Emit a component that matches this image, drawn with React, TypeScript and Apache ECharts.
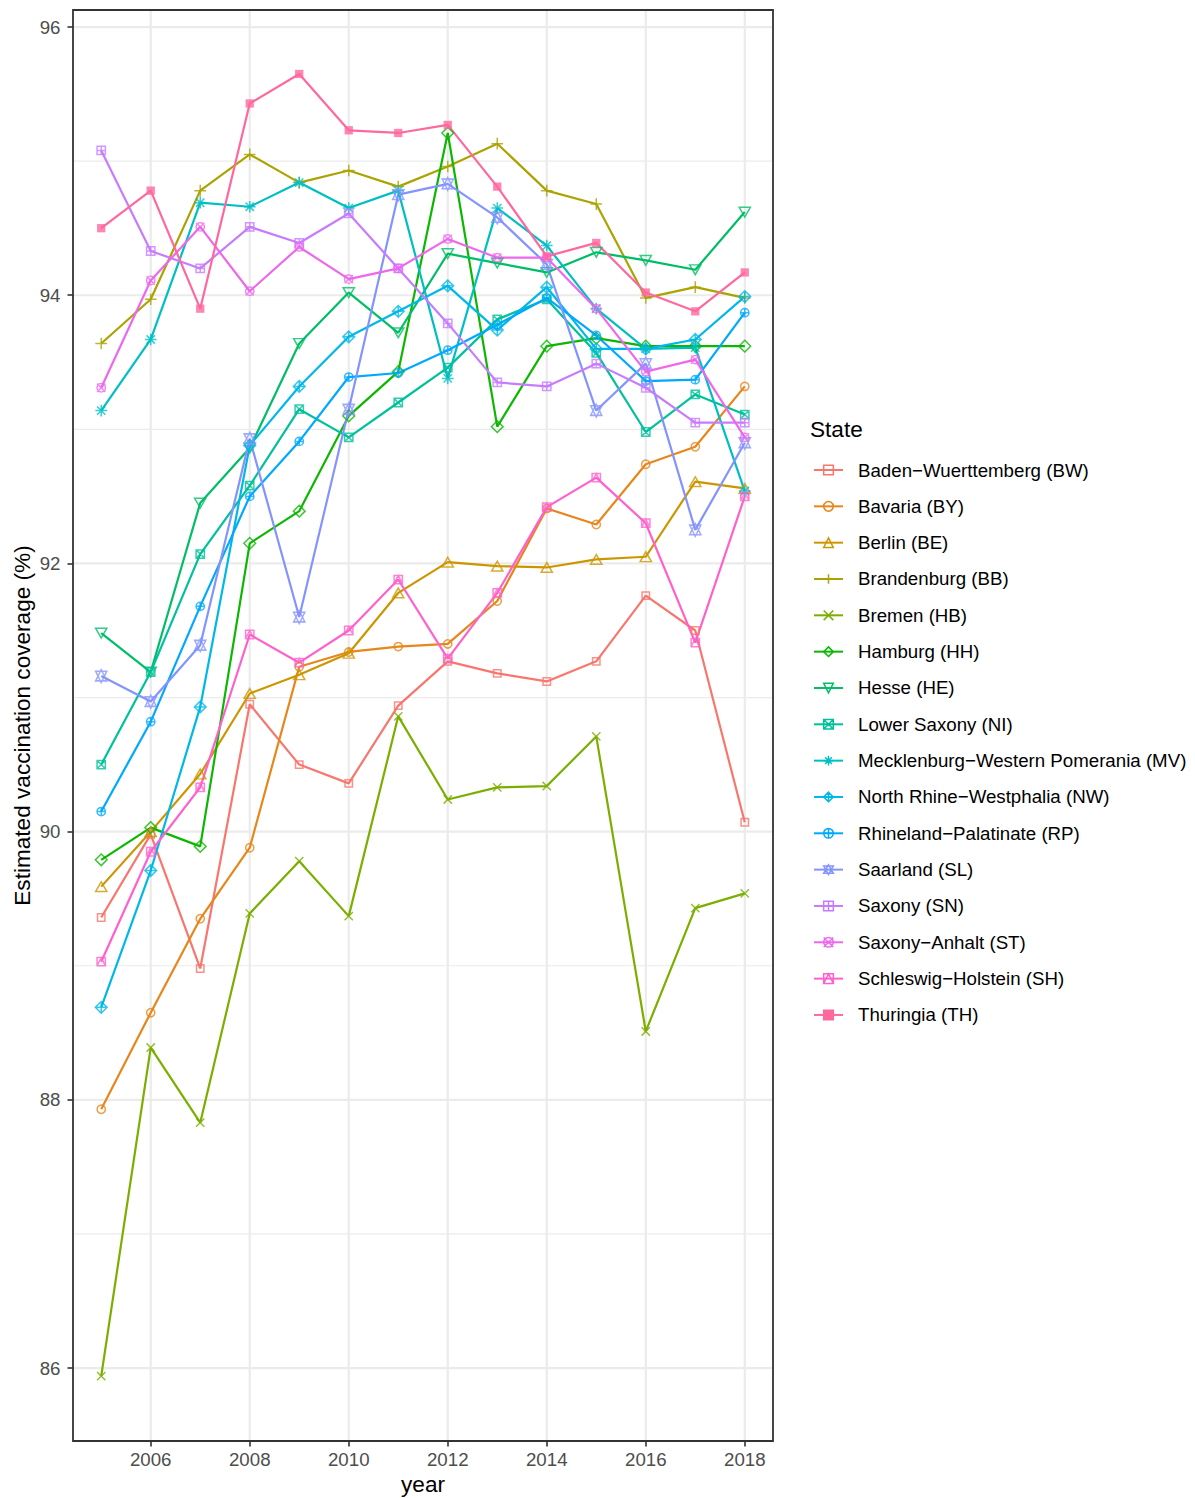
import React, { useEffect, useRef } from "react";
import * as echarts from "echarts";

// ---------- data ----------
const YEARS = [2005, 2006, 2007, 2008, 2009, 2010, 2011, 2012, 2013, 2014, 2015, 2016, 2017, 2018];

const STATES = [
  "Baden\u2212Wuerttemberg (BW)",
  "Bavaria (BY)",
  "Berlin (BE)",
  "Brandenburg (BB)",
  "Bremen (HB)",
  "Hamburg (HH)",
  "Hesse (HE)",
  "Lower Saxony (NI)",
  "Mecklenburg\u2212Western Pomerania (MV)",
  "North Rhine\u2212Westphalia (NW)",
  "Rhineland\u2212Palatinate (RP)",
  "Saarland (SL)",
  "Saxony (SN)",
  "Saxony\u2212Anhalt (ST)",
  "Schleswig\u2212Holstein (SH)",
  "Thuringia (TH)",
];

const BW = [89.36, 89.98, 88.98, 90.95, 90.5, 90.36, 90.94, 91.27, 91.18, 91.12, 91.27, 91.76, 91.5, 90.07];
const BY = [87.93, 88.65, 89.35, 89.88, 91.23, 91.34, 91.38, 91.4, 91.72, 92.41, 92.29, 92.74, 92.87, 93.32];
const BE = [89.59, 90.0, 90.43, 91.03, 91.17, 91.33, 91.78, 92.01, 91.98, 91.97, 92.03, 92.05, 92.61, 92.56];
const BB = [93.64, 93.97, 94.78, 95.05, 94.84, 94.93, 94.81, 94.96, 95.13, 94.78, 94.68, 93.98, 94.06, 93.98];
const HB = [85.94, 88.39, 87.83, 89.39, 89.78, 89.37, 90.86, 90.24, 90.33, 90.34, 90.71, 88.51, 89.43, 89.54];
const HH = [89.79, 90.03, 89.89, 92.15, 92.39, 93.1, 93.43, 95.21, 93.02, 93.62, 93.68, 93.62, 93.62, 93.62];
const HE = [91.48, 91.19, 92.45, 92.86, 93.64, 94.02, 93.72, 94.31, 94.24, 94.17, 94.32, 94.26, 94.19, 94.62];
const NI = [90.5, 91.19, 92.07, 92.58, 93.15, 92.94, 93.2, 93.46, 93.82, 93.97, 93.57, 92.98, 93.26, 93.11];
const MV = [93.14, 93.67, 94.69, 94.66, 94.84, 94.65, 94.78, 93.38, 94.65, 94.37, 93.9, 93.6, 93.61, 92.54];
const NW = [88.69, 89.71, 90.93, 92.88, 93.32, 93.69, 93.88, 94.07, 93.74, 94.06, 93.6, 93.6, 93.67, 93.99];
const RP = [90.15, 90.82, 91.68, 92.5, 92.91, 93.39, 93.42, 93.59, 93.78, 93.98, 93.7, 93.36, 93.37, 93.87];
const SL = [91.16, 90.97, 91.39, 92.93, 91.6, 93.15, 94.75, 94.83, 94.58, 94.23, 93.14, 93.49, 92.25, 92.9];
const SN = [95.08, 94.33, 94.2, 94.51, 94.39, 94.61, 94.2, 93.79, 93.35, 93.32, 93.49, 93.31, 93.05, 93.05];
const ST = [93.31, 94.11, 94.51, 94.03, 94.36, 94.12, 94.2, 94.42, 94.28, 94.28, 93.9, 93.43, 93.52, 92.94];
const SH = [89.03, 89.85, 90.33, 91.47, 91.26, 91.5, 91.88, 91.29, 91.78, 92.42, 92.64, 92.3, 91.41, 92.5];
const TH = [94.5, 94.78, 93.9, 95.43, 95.65, 95.23, 95.21, 95.27, 94.81, 94.29, 94.39, 94.02, 93.88, 94.17];

const VALUES = [BW, BY, BE, BB, HB, HH, HE, NI, MV, NW, RP, SL, SN, ST, SH, TH];

const X_TICKS = [2006, 2008, 2010, 2012, 2014, 2016, 2018];
const Y_TICKS = [86, 88, 90, 92, 94, 96];
const Y_MINOR = [87, 89, 91, 93, 95];
const X_RANGE = [2004.43, 2018.57];
const Y_RANGE = [85.456, 96.127];

// ---------- styles ----------
const COLORS = [
  "#F8766D", "#E7861B", "#CD9600", "#ABA300", "#7CAE00", "#0CB702", "#00BE67", "#00C19A",
  "#00BFC4", "#00B8E7", "#00A9FF", "#8494FF", "#C77CFF", "#ED68ED", "#FF61CC", "#FF689F",
];

const FONT = "'Liberation Sans', Arial, Helvetica, sans-serif";
const CIRCLE = "M0 5A5 5 0 1 1 10 5A5 5 0 1 1 0 5Z";

const SHAPES: { symbol: string; size: number | number[]; filled?: boolean }[] = [
  { symbol: "rect", size: 7.4 },
  { symbol: "circle", size: 8.3 },
  { symbol: "triangle", size: [11.2, 9.7] },
  { symbol: "path://M0 5L10 5M5 0L5 10", size: 11.7 },
  { symbol: "path://M0 0L10 10M10 0L0 10", size: 8.3 },
  { symbol: "diamond", size: 11.7 },
  { symbol: "path://M0 0L10 0L5 8.66Z", size: [11.2, 9.7] },
  { symbol: "path://M0 0L10 0L10 10L0 10ZM0 0L10 10M10 0L0 10", size: 8.3 },
  { symbol: "path://M0 5L10 5M5 0L5 10M1.46 1.46L8.54 8.54M8.54 1.46L1.46 8.54", size: 11.7 },
  { symbol: "path://M5 0L10 5L5 10L0 5ZM0 5L10 5M5 0L5 10", size: 11.7 },
  { symbol: "path://" + CIRCLE + "M0 5L10 5M5 0L5 10", size: 8.3 },
  { symbol: "path://M13.47 0L26.94 27.21L0 27.21ZM13.47 31.1L26.94 3.89L0 3.89Z", size: [11.2, 12.9] },
  { symbol: "path://M0 0L10 0L10 10L0 10ZM0 5L10 5M5 0L5 10", size: 8.3 },
  { symbol: "path://" + CIRCLE + "M0 0L10 10M10 0L0 10", size: 8.3 },
  { symbol: "path://M0 0L10 0L10 10L0 10ZM0 10L5 0L10 10", size: 8.3 },
  { symbol: "rect", size: 8.3, filled: true },
];

function itemStyleFor(i: number) {
  const c = COLORS[i];
  return SHAPES[i].filled
    ? { color: c, borderColor: c, borderWidth: 0 }
    : { color: "none", borderColor: c, borderWidth: 1.5 };
}

export default function App() {
  const ref = useRef<HTMLDivElement>(null);

  useEffect(() => {
    if (!ref.current) return;
    const chart = echarts.init(ref.current, null, { renderer: "svg" });

    const seriesData = (i: number) => YEARS.map((y, j) => [y, VALUES[i][j]]);

    const lineSeries = STATES.map((name, i) => ({
      name,
      type: "line",
      data: seriesData(i),
      symbol: SHAPES[i].symbol,
      symbolSize: SHAPES[i].size,
      showSymbol: false,
      itemStyle: itemStyleFor(i),
      lineStyle: { color: COLORS[i], width: 2.2 },
      emphasis: { disabled: true },
      silent: true,
      z: 2,
    }));

    const pointSeries = STATES.map((name, i) => ({
      name,
      type: "scatter",
      data: seriesData(i),
      symbol: SHAPES[i].symbol,
      symbolSize: SHAPES[i].size,
      itemStyle: itemStyleFor(i),
      emphasis: { disabled: true },
      silent: true,
      z: 3,
    }));

    const vGrid = {
      type: "custom",
      name: "vgrid",
      silent: true,
      z: 1,
      clip: false,
      data: X_TICKS.map((x) => [x, Y_RANGE[0]]),
      renderItem: (_p: any, api: any) => {
        const x = api.value(0);
        const a = api.coord([x, Y_RANGE[0]]);
        const b = api.coord([x, Y_RANGE[1]]);
        return {
          type: "line",
          shape: { x1: a[0], y1: a[1], x2: b[0], y2: b[1] },
          style: { stroke: "#EBEBEB", lineWidth: 2.2 },
        };
      },
    };

    const hGrid = {
      type: "custom",
      name: "hgrid",
      silent: true,
      z: 1,
      clip: false,
      data: [...Y_TICKS.map((y) => [X_RANGE[0], y, 1]), ...Y_MINOR.map((y) => [X_RANGE[0], y, 0])],
      renderItem: (_p: any, api: any) => {
        const y = api.value(1);
        const major = api.value(2) === 1;
        const a = api.coord([X_RANGE[0], y]);
        const b = api.coord([X_RANGE[1], y]);
        return {
          type: "line",
          shape: { x1: a[0], y1: a[1], x2: b[0], y2: b[1] },
          style: { stroke: "#EBEBEB", lineWidth: major ? 2.2 : 1.2 },
        };
      },
    };

    chart.setOption({
      animation: false,
      backgroundColor: "#FFFFFF",
      grid: {
        left: 73,
        top: 10,
        width: 700,
        height: 1431,
        show: true,
        borderColor: "#333333",
        borderWidth: 1.8,
        backgroundColor: "transparent",
        z: 10,
      },
      xAxis: {
        type: "value",
        min: X_RANGE[0],
        max: X_RANGE[1],
        axisLine: { show: false },
        splitLine: { show: false },
        axisTick: { show: true, customValues: X_TICKS, length: 5.5, lineStyle: { color: "#333333", width: 1.6 } },
        axisLabel: {
          customValues: X_TICKS,
          formatter: (v: number) => String(v),
          color: "#4D4D4D",
          fontSize: 18.7,
          fontFamily: FONT,
          margin: 8.5,
        },
      },
      yAxis: {
        type: "value",
        min: Y_RANGE[0],
        max: Y_RANGE[1],
        axisLine: { show: false },
        splitLine: { show: false },
        axisTick: { show: true, customValues: Y_TICKS, length: 5.5, lineStyle: { color: "#333333", width: 1.6 } },
        axisLabel: {
          customValues: Y_TICKS,
          formatter: (v: number) => String(v),
          color: "#4D4D4D",
          fontSize: 18.7,
          fontFamily: FONT,
          margin: 12.5,
        },
      },
      legend: {
        data: STATES,
        orient: "vertical",
        left: 813,
        top: 460,
        padding: 0,
        itemWidth: 29,
        itemHeight: 12,
        itemGap: 16.33,
        selectedMode: false,
        itemStyle: { borderWidth: 1.5 },
        textStyle: {
          fontFamily: FONT,
          fontSize: 18.7,
          color: "#000000",
          lineHeight: 20,
          padding: [0, 0, 0, 10],
        },
      },
      graphic: [
        {
          type: "text",
          x: 810,
          y: 429,
          style: {
            text: "State",
            fontFamily: FONT,
            fontSize: 22.6,
            fill: "#000000",
            align: "left",
            verticalAlign: "middle",
            textAlign: "left",
            textVerticalAlign: "middle",
          },
        },
        {
          type: "text",
          x: 423,
          y: 1484,
          style: {
            text: "year",
            fontFamily: FONT,
            fontSize: 22.6,
            fill: "#000000",
            align: "center",
            verticalAlign: "middle",
            textAlign: "center",
            textVerticalAlign: "middle",
          },
        },
        {
          type: "text",
          x: 22,
          y: 725.5,
          rotation: Math.PI / 2,
          style: {
            text: "Estimated vaccination coverage (%)",
            fontFamily: FONT,
            fontSize: 22.6,
            fill: "#000000",
            align: "center",
            verticalAlign: "middle",
            textAlign: "center",
            textVerticalAlign: "middle",
          },
        },
      ],
      series: [vGrid, hGrid, ...lineSeries, ...pointSeries],
    });

    return () => chart.dispose();
  }, []);

  return (
    <div
      ref={ref}
      style={{ position: "absolute", left: 0, top: 0, width: 1195, height: 1498 }}
    />
  );
}
